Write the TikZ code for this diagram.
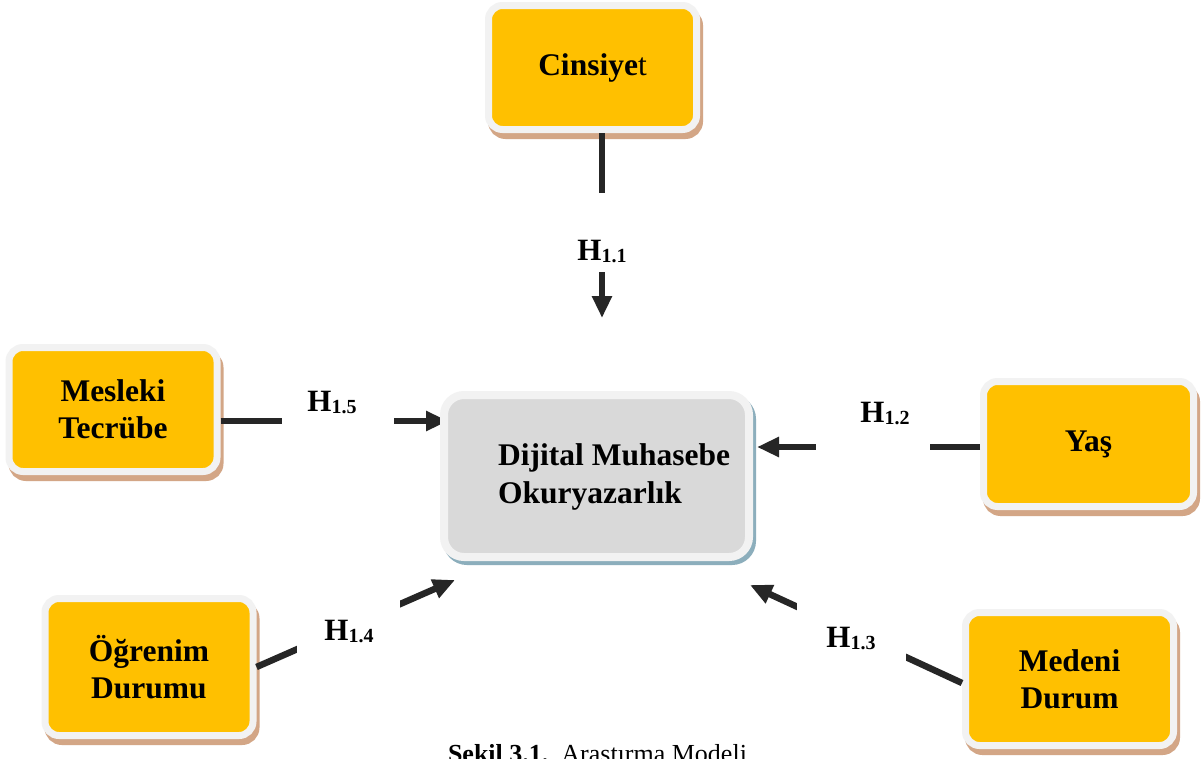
\documentclass[tikz,border=0pt]{standalone}
\usepackage{fontspec}
\setmainfont{Liberation Serif}
\usetikzlibrary{arrows.meta,shadows}
\definecolor{gold}{RGB}{255,192,0}
\definecolor{rim}{RGB}{242,242,242}
\definecolor{tan}{RGB}{211,166,134}
\definecolor{hubgray}{RGB}{217,217,217}
\definecolor{hubshade}{RGB}{140,174,188}
\definecolor{ink}{RGB}{38,38,38}
\newcommand{\hyp}[1]{H\raisebox{-2.5pt}{\fontsize{20}{20}\selectfont #1}}
\tikzset{
  factor/.style={draw=rim, line width=7pt, fill=gold, rounded corners=14pt,
    minimum width=208pt, minimum height=124pt, inner sep=0pt, align=center,
    font=\fontsize{31.5}{37}\selectfont\bfseries,
    drop shadow={shadow xshift=3pt, shadow yshift=-6pt, opacity=1,
      fill=tan, draw=tan, line width=7pt}},
  hub/.style={draw=rim, line width=8pt, fill=hubgray, rounded corners=20pt,
    minimum width=305pt, minimum height=162pt, inner sep=0pt,
    drop shadow={shadow xshift=3pt, shadow yshift=-4pt, opacity=1,
      fill=hubshade, draw=hubshade, line width=8pt}},
  link/.style={draw=ink, line width=6.5pt, -{Triangle[length=22pt,width=19pt]}},
  gap/.style={fill=white, inner sep=0pt},
  hyplabel/.style={anchor=base, inner sep=0pt, font=\fontsize{31}{31}\selectfont\bfseries}
}
\begin{document}
\begin{tikzpicture}[x=1pt,y=-1pt]
\useasboundingbox[fill=white] (0,0) rectangle (1204,758);

% tips of the arrows
\coordinate (t1) at (602,318);
\coordinate (t2) at (757,447);
\coordinate (t3) at (750,585);
\coordinate (t4) at (455,580);
\coordinate (t5) at (448,421);

% boxes
\node[factor] (cins) at (592.5,67.5) {Cinsiye\mdseries t};
\node[factor] (mesl) at (113,409.5) {Mesleki\\Tecrübe};
\node[factor, minimum width=210pt, minimum height=125pt] (yas) at (1088.5,444) {Yaş};
\node[factor, minimum height=137pt] (ogr) at (149,667) {Öğrenim\\Durumu};
\node[factor, minimum height=133pt] (med) at (1069.5,679) {Medeni\\Durum};

% connectors
\draw[link] ([xshift=9.5pt]cins.south) -- (t1);
\draw[link] ([yshift=-11.5pt]mesl.east) -- (t5);
\draw[link] ([yshift=-3pt]yas.west) -- (t2);
\draw[link] ([yshift=-4pt]med.west) -- (t3);
\draw[link] (ogr.east) -- (t4);

% white boxes behind the hypotheses
\node[gap, minimum width=146pt, minimum height=79pt] (g1) at (602,232.5) {};
\node[gap, minimum width=114pt, minimum height=128pt] (g2) at (873,409) {};
\node[gap, minimum width=109pt, minimum height=132pt] (g3) at (851.5,634) {};
\node[gap, minimum width=103pt, minimum height=128pt] (g4) at (348.5,626) {};
\node[gap, minimum width=112pt, minimum height=102pt] (g5) at (338,386) {};

\node[hyplabel] (h1) at (602,260) {\hyp{1.1}};
\node[hyplabel] (h2) at (885,422) {\hyp{1.2}};
\node[hyplabel] (h3) at (851,647) {\hyp{1.3}};
\node[hyplabel] (h4) at (349,640) {\hyp{1.4}};
\node[hyplabel] (h5) at (332,411) {\hyp{1.5}};

% dependent variable
\node[hub] (dmo) at (596.5,476) {};
\node[anchor=west, align=left, inner sep=0pt, font=\fontsize{31.5}{38}\selectfont\bfseries]
  (dmotext) at (498,477) {Dijital Muhasebe\\Okuryazarlık};

% caption
\node[anchor=base, inner sep=0pt, font=\fontsize{26}{26}\selectfont] (cap) at (597.5,762)
  {\textbf{Şekil 3.1.}\ \ Araştırma Modeli};
\end{tikzpicture}
\end{document}
